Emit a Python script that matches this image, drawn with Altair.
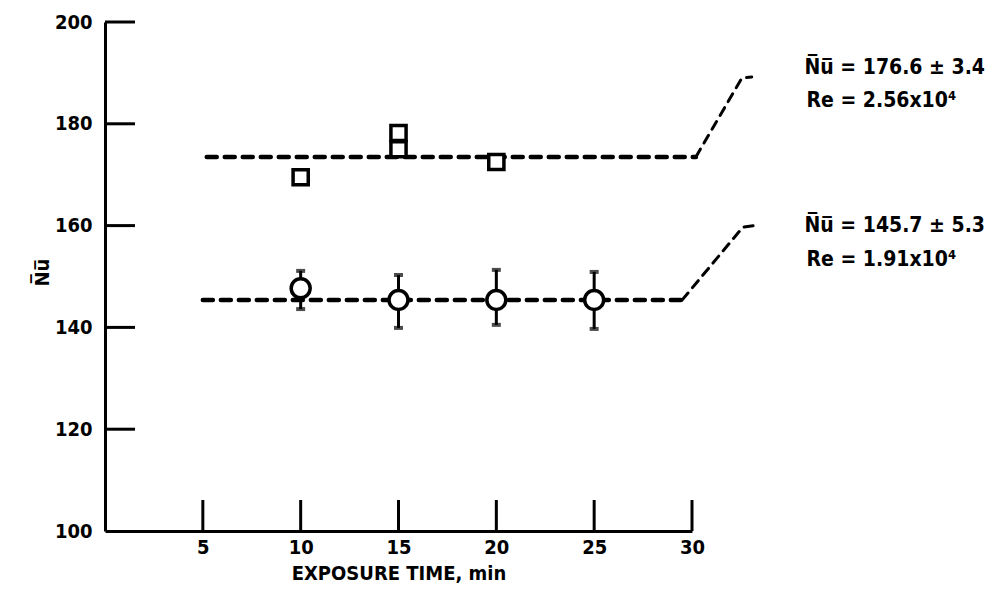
import altair as alt
import pandas as pd

# ---- data ----
x_ticks = [5, 10, 15, 20, 25, 30]
y_ticks = [100, 120, 140, 160, 180, 200]

# Re = 2.56x10^4 (open squares)
sq_x = [10, 15, 15, 20]
sq_y = [169.5, 178.2, 175.0, 172.5]

# Re = 1.91x10^4 (open circles with error bars)
circ_x = [10, 15, 20, 25]
circ_y = [147.7, 145.4, 145.4, 145.4]
circ_lo = [143.6, 139.9, 140.5, 139.7]
circ_hi = [151.1, 150.3, 151.3, 150.9]

# mean lines
upper_fit_x = [5.2, 30.2]
upper_fit_y = [173.5, 173.5]
lower_fit_x = [5.0, 29.5]
lower_fit_y = [145.4, 145.4]

# leader lines to the annotations
upper_leader_x = [30.2, 32.55, 33.05]
upper_leader_y = [173.5, 189.0, 189.2]
lower_leader_x = [29.5, 32.6, 33.4]
lower_leader_y = [145.4, 159.7, 160.1]

# annotations
ann_text = ["N\u0305u\u0305 = 176.6 \u00b1 3.4", "Re = 2.56x10\u2074",
            "N\u0305u\u0305 = 145.7 \u00b1 5.3", "Re = 1.91x10\u2074"]
ann_x = [35.75, 35.85, 35.75, 35.85]
ann_y = [191.0, 184.4, 159.9, 153.2]

FONT = "DejaVu Sans Condensed, DejaVu Sans, sans-serif"
W, H = 587, 509

xs = alt.Scale(domain=[0, 30], nice=False, zero=False)
ys = alt.Scale(domain=[100, 200], nice=False, zero=False)

xax = alt.Axis(values=x_ticks, ticks=False, grid=False, domainColor="black",
               domainWidth=3, labelFont=FONT, labelFontWeight="bold",
               labelFontSize=20, labelColor="black", labelPadding=6,
               labelFlush=False, labelOverlap=False,
               title="EXPOSURE TIME, min", titleFont=FONT, titleFontWeight="bold",
               titleFontSize=20, titleColor="black", titlePadding=6)
yax = alt.Axis(values=y_ticks, ticks=False, grid=False, domainColor="black",
               domainWidth=3, labelFont=FONT, labelFontWeight="bold",
               labelFontSize=20, labelColor="black", labelPadding=13,
               labelFlush=False, labelOverlap=False,
               title="N\u0305u\u0305", titleFont=FONT, titleFontWeight="bold",
               titleFontSize=20, titleColor="black", titleX=-63, titleY=250,
               titleAngle=270, titleAlign="center", titleBaseline="middle")

sq_df = pd.DataFrame({"x": sq_x, "y": sq_y})
ci_df = pd.DataFrame({"x": circ_x, "y": circ_y, "lo": circ_lo, "hi": circ_hi})
uf_df = pd.DataFrame({"x": upper_fit_x, "y": upper_fit_y})
lf_df = pd.DataFrame({"x": lower_fit_x, "y": lower_fit_y})
ul_df = pd.DataFrame({"x": upper_leader_x, "y": upper_leader_y, "o": range(3)})
ll_df = pd.DataFrame({"x": lower_leader_x, "y": lower_leader_y, "o": range(3)})
an_df = pd.DataFrame({"x": ann_x, "y": ann_y, "t": ann_text})
xt_df = pd.DataFrame({"v": x_ticks})
yt_df = pd.DataFrame({"v": y_ticks[1:]})

base_axes = alt.Chart(sq_df).mark_point(opacity=0).encode(
    x=alt.X("x:Q", scale=xs, axis=xax),
    y=alt.Y("y:Q", scale=ys, axis=yax),
)

xtick = alt.Chart(xt_df).mark_rule(color="black", strokeWidth=3).encode(
    x=alt.X("v:Q", scale=xs), y=alt.value(H - 31), y2=alt.value(H))
ytick = alt.Chart(yt_df).mark_rule(color="black", strokeWidth=3).encode(
    y=alt.Y("v:Q", scale=ys), x=alt.value(0), x2=alt.value(30))

def fit(df):
    return alt.Chart(df).mark_line(color="black", strokeWidth=4.5,
                                   strokeDash=[10, 8], strokeCap="round").encode(
        x=alt.X("x:Q", scale=xs), y=alt.Y("y:Q", scale=ys))

def leader(df):
    return alt.Chart(df).mark_line(color="black", strokeWidth=3,
                                   strokeDash=[9, 7], strokeCap="round").encode(
        x=alt.X("x:Q", scale=xs), y=alt.Y("y:Q", scale=ys), order="o:Q")

err = alt.Chart(ci_df).mark_rule(color="black", strokeWidth=3).encode(
    x=alt.X("x:Q", scale=xs), y=alt.Y("lo:Q", scale=ys), y2="hi:Q")
cap_lo = alt.Chart(ci_df).mark_tick(color="black", orient="horizontal",
                                    size=9, thickness=4).encode(
    x=alt.X("x:Q", scale=xs), y=alt.Y("lo:Q", scale=ys))
cap_hi = alt.Chart(ci_df).mark_tick(color="black", orient="horizontal",
                                    size=9, thickness=4).encode(
    x=alt.X("x:Q", scale=xs), y=alt.Y("hi:Q", scale=ys))
circles = alt.Chart(ci_df).mark_point(shape="circle", size=360, filled=True,
                                      fill="white", stroke="black",
                                      strokeWidth=3.5, opacity=1).encode(
    x=alt.X("x:Q", scale=xs), y=alt.Y("y:Q", scale=ys))
squares = alt.Chart(sq_df).mark_point(shape="square", size=230, filled=True,
                                      fill="white", stroke="black",
                                      strokeWidth=3.5, opacity=1).encode(
    x=alt.X("x:Q", scale=xs), y=alt.Y("y:Q", scale=ys))

ann = alt.Chart(an_df).mark_text(align="left", baseline="middle", font=FONT,
                                 fontWeight="bold", fontSize=21,
                                 color="black").encode(
    x=alt.X("x:Q", scale=xs), y=alt.Y("y:Q", scale=ys), text="t:N")

chart = alt.layer(
    base_axes, xtick, ytick, fit(uf_df), fit(lf_df), leader(ul_df), leader(ll_df),
    err, cap_lo, cap_hi, circles, squares, ann
).properties(
    width=W, height=H,
    autosize=alt.AutoSizeParams(type="none"),
    padding={"left": 105, "top": 22, "right": 1004 - 105 - W, "bottom": 596 - 22 - H},
    background="white",
).configure_view(stroke=None)

chart.save("out.html", embed_options={"renderer": "svg", "actions": False})
